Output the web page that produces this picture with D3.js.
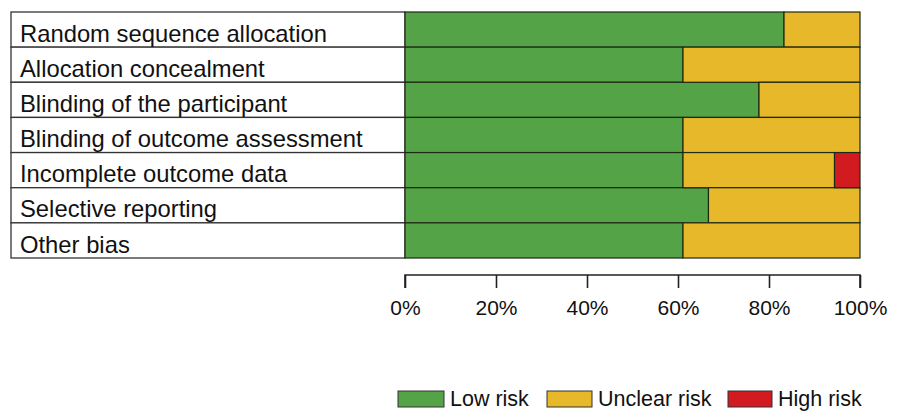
<!DOCTYPE html>
<html>
<head>
<meta charset="utf-8">
<script src="https://cdn.jsdelivr.net/npm/d3@7"></script>
<style>
  html, body { margin: 0; padding: 0; background: #fff; }
  svg { display: block; font-family: "Liberation Sans", Arial, sans-serif; }
</style>
</head>
<body>
<svg id="chart" width="902" height="411"></svg>
<script>
// Risk-of-bias domains, top to bottom
const domains = [
  "Random sequence allocation",
  "Allocation concealment",
  "Blinding of the participant",
  "Blinding of outcome assessment",
  "Incomplete outcome data",
  "Selective reporting",
  "Other bias"
];
// Percentage of studies per judgement for each domain
const lowRisk     = [83.3, 61.1, 77.8, 61.1, 61.1, 66.7, 61.1];
const unclearRisk = [16.7, 38.9, 22.2, 38.9, 33.3, 33.3, 38.9];
const highRisk    = [0, 0, 0, 0, 5.6, 0, 0];
const seriesNames = ["Low risk", "Unclear risk", "High risk"];
const seriesColors = ["#54a447", "#e6b82a", "#d11b20"];
const tickValues = [0, 20, 40, 60, 80, 100];

const svg = d3.select("#chart");

const tableLeft = 11, plotLeft = 405, plotRight = 860;
const plotTop = 12, plotBottom = 258;

const x = d3.scaleLinear().domain([0, 100]).range([plotLeft, plotRight]);
const y = d3.scaleBand().domain(domains).range([plotTop, plotBottom]).padding(0);

const rows = domains.map((d, i) => ({
  domain: d,
  values: [lowRisk[i], unclearRisk[i], highRisk[i]]
}));

// Label column: one bordered cell per domain
const cells = svg.append("g");
cells.selectAll("rect")
  .data(domains)
  .join("rect")
  .attr("x", tableLeft)
  .attr("y", d => y(d))
  .attr("width", plotLeft - tableLeft)
  .attr("height", y.bandwidth())
  .attr("fill", "#fff")
  .attr("stroke", "#333")
  .attr("stroke-width", 1.3);

cells.selectAll("text")
  .data(domains)
  .join("text")
  .attr("x", 20)
  .attr("y", d => y(d) + y.bandwidth() - 5.5)
  .attr("font-size", 23.8)
  .attr("fill", "#111")
  .text(d => d);

// Stacked bars
const stack = d3.stack().keys([0, 1, 2]).value((r, k) => r.values[k]);
const layers = stack(rows);

svg.append("g")
  .selectAll("g")
  .data(layers)
  .join("g")
  .attr("fill", (d, i) => seriesColors[i])
  .selectAll("rect")
  .data(d => d.filter(s => s[1] - s[0] > 0))
  .join("rect")
  .attr("x", s => x(s[0]))
  .attr("y", s => y(s.data.domain))
  .attr("width", s => x(s[1]) - x(s[0]))
  .attr("height", y.bandwidth())
  .attr("stroke", "#1f2a14")
  .attr("stroke-width", 1.2);

// Percentage axis
const axis = svg.append("g")
  .attr("transform", "translate(0,275)")
  .call(d3.axisBottom(x).tickValues(tickValues).tickSize(13).tickPadding(12).tickFormat(d => d + "%"));
axis.select(".domain").attr("stroke", "#222").attr("stroke-width", 1.6).attr("d", `M${plotLeft},13V0H${plotRight}V13`);
axis.selectAll(".tick line").attr("stroke", "#222").attr("stroke-width", 1.6);
axis.selectAll(".tick text")
  .attr("font-size", 21)
  .attr("font-family", "Liberation Sans, Arial, sans-serif")
  .attr("fill", "#111");

// Legend
const legendItems = [
  { name: seriesNames[0], color: seriesColors[0], x: 398, w: 46 },
  { name: seriesNames[1], color: seriesColors[1], x: 547, w: 45 },
  { name: seriesNames[2], color: seriesColors[2], x: 728, w: 44 }
];
const legend = svg.append("g");
legend.selectAll("rect")
  .data(legendItems)
  .join("rect")
  .attr("x", d => d.x)
  .attr("y", 391)
  .attr("width", d => d.w)
  .attr("height", 16)
  .attr("fill", d => d.color)
  .attr("stroke", "#333")
  .attr("stroke-width", 1);
legend.selectAll("text")
  .data(legendItems)
  .join("text")
  .attr("x", d => d.x + d.w + 6)
  .attr("y", 406)
  .attr("font-size", 21.5)
  .attr("fill", "#111")
  .text(d => d.name);
</script>
</body>
</html>
